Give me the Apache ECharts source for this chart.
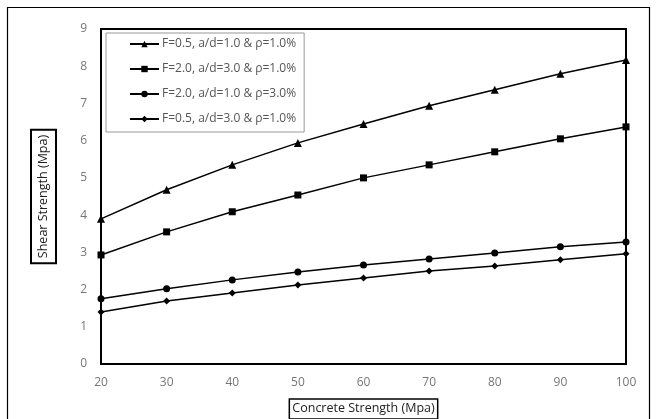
<!DOCTYPE html>
<html><head><meta charset="utf-8">
<script src="https://cdn.jsdelivr.net/npm/echarts@6/dist/echarts.min.js"></script>
<style>html,body{margin:0;padding:0;background:#fff}#c{width:657px;height:419px}</style>
</head><body><div id="c"></div>
<script>
const xValues = [20, 30, 40, 50, 60, 70, 80, 90, 100];
const seriesNames = ['F=0.5, a/d=1.0 & \u03c1=1.0%', 'F=2.0, a/d=3.0 & \u03c1=1.0%', 'F=2.0, a/d=1.0 & \u03c1=3.0%', 'F=0.5, a/d=3.0 & \u03c1=1.0%'];
const s1 = [3.9, 4.68, 5.35, 5.94, 6.45, 6.94, 7.37, 7.8, 8.17];
const s2 = [2.93, 3.55, 4.09, 4.54, 5.0, 5.35, 5.7, 6.05, 6.37];
const s3 = [1.75, 2.02, 2.26, 2.47, 2.66, 2.82, 2.98, 3.15, 3.28];
const s4 = [1.4, 1.69, 1.91, 2.12, 2.31, 2.5, 2.63, 2.8, 2.96];
const symbols = ['triangle', 'rect', 'circle', 'diamond'];
const symSizes = [8, 7, 7, 7];
const allData = [s1, s2, s3, s4];
const font = 'Open Sans, Lato, sans-serif';
const chart = echarts.init(document.getElementById('c'));
chart.setOption({
  animation: false,
  grid: {left: 101, right: 31, top: 29, bottom: 55, show: true, borderColor: '#000', borderWidth: 2, outerBoundsMode: 'none', containLabel: false},
  graphic: [{type: 'rect', shape: {x: 7.5, y: 7.5, width: 642, height: 420}, style: {fill: 'none', stroke: '#000', lineWidth: 1.2}}],
  legend: {
    orient: 'vertical', left: 106, top: 33, padding: [5, 8, 7, 23], itemGap: 13,
    borderColor: '#999', borderWidth: 1, itemWidth: 29, itemHeight: 8,
    textStyle: {color: '#555', fontFamily: font, fontSize: 12, padding: [0, 0, 0, -2]},
    data: seriesNames
  },
  xAxis: {
    type: 'value', min: 20, max: 100, interval: 10,
    axisLine: {show: false}, axisTick: {show: false}, splitLine: {show: false},
    axisLabel: {color: '#777', fontFamily: font, fontSize: 12, margin: 13},
    name: 'Concrete Strength (Mpa)', nameLocation: 'middle', nameGap: 35,
    nameTextStyle: {color: '#222', fontFamily: font, fontSize: 12.5, borderColor: '#000', borderWidth: 1.5, padding: [3, 3, 4, 3]}
  },
  yAxis: {
    type: 'value', min: 0, max: 9, interval: 1,
    axisLine: {show: false}, axisTick: {show: false}, splitLine: {show: false},
    axisLabel: {color: '#777', fontFamily: font, fontSize: 12, margin: 14},
    name: 'Shear Strength (Mpa)', nameLocation: 'middle', nameGap: 45,
    nameTextStyle: {color: '#222', fontFamily: font, fontSize: 12.5, borderColor: '#000', borderWidth: 2, padding: [6, 5, 6, 5]}
  },
  series: allData.map((d, i) => ({
    name: seriesNames[i], type: 'line', data: xValues.map((x, j) => [x, d[j]]),
    symbol: symbols[i], symbolSize: symSizes[i], showAllSymbol: true,
    lineStyle: {color: '#000', width: 1.5}, itemStyle: {color: '#000'}
  }))
});
</script></body></html>
